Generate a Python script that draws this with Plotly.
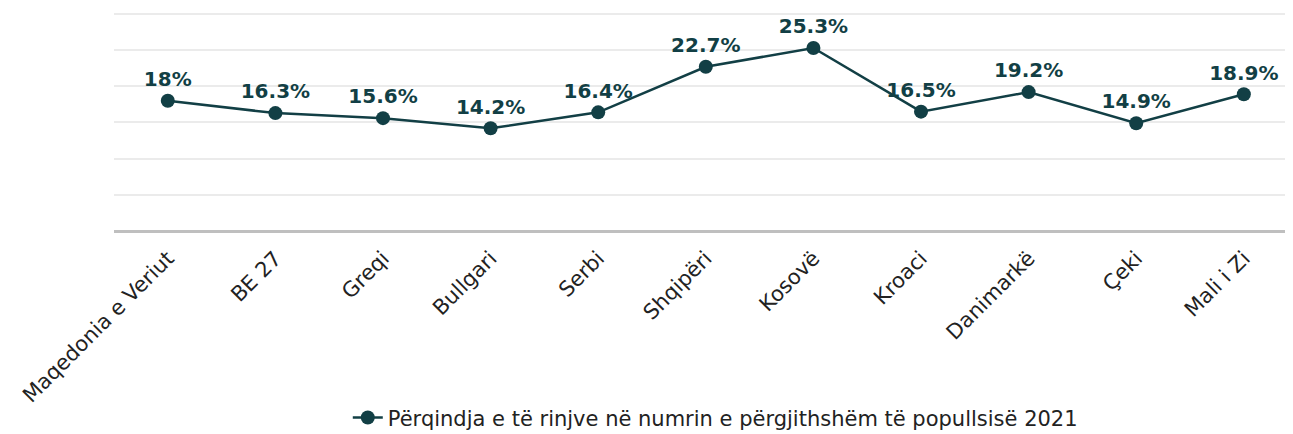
import plotly.graph_objects as go

categories = ["Maqedonia e Veriut", "BE 27", "Greqi", "Bullgari", "Serbi", "Shqipëri",
              "Kosovë", "Kroaci", "Danimarkë", "Çeki", "Mali i Zi"]
values = [18.0, 16.3, 15.6, 14.2, 16.4, 22.7, 25.3, 16.5, 19.2, 14.9, 18.9]
labels = ["18%", "16.3%", "15.6%", "14.2%", "16.4%", "22.7%", "25.3%", "16.5%", "19.2%", "14.9%", "18.9%"]
series_name = "Përqindja e të rinjve në numrin e përgjithshëm të popullsisë 2021"

color = "#123f45"
font_family = "DejaVu Sans, sans-serif"

fig = go.Figure()
fig.add_trace(go.Scatter(
    x=categories, y=values, mode="lines+markers+text", name=series_name,
    text=labels, textposition="top center",
    textfont=dict(size=20, color=color, family=font_family, weight="bold"),
    line=dict(color=color, width=2.5),
    marker=dict(size=14, color=color),
))

# page body has an 8px default margin, so the figure is sized/offset accordingly
fig.update_layout(
    width=1285, height=426,
    margin=dict(l=106, r=0, t=2, b=203),
    paper_bgcolor="white", plot_bgcolor="white",
    font=dict(family=font_family, color="#222222"),
    showlegend=True,
    legend=dict(orientation="h", x=0.51, xanchor="center", yref="container", y=0.038,
                yanchor="middle", font=dict(size=21, color="#222222")),
    xaxis=dict(range=[-0.5, 10.457], tickangle=-45, tickfont=dict(size=21, color="#222222"),
               showgrid=False, showline=False, ticks="", zeroline=False, automargin=False,
               ticklabelstandoff=10),
    yaxis=dict(range=[0, 30.55], tick0=0, dtick=5, showticklabels=False, showgrid=True,
               gridcolor="#ebebeb", gridwidth=2, zeroline=True, zerolinecolor="#bfbfbf",
               zerolinewidth=3, showline=False, ticks="", automargin=False),
)

fig.write_html("out.html")
